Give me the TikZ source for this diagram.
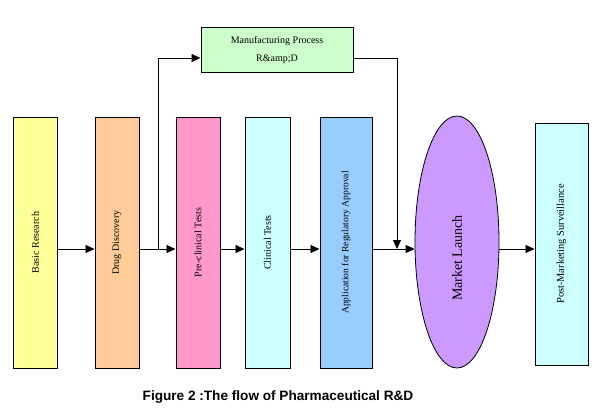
\documentclass[tikz,border=0pt]{standalone}
\usepackage{fontspec}
\setmainfont{Liberation Serif}
\setsansfont{Liberation Sans}
\usetikzlibrary{arrows.meta,shapes.geometric}
\definecolor{cyel}{HTML}{FFFF99}
\definecolor{corg}{HTML}{FFCC99}
\definecolor{cpnk}{HTML}{FF99CC}
\definecolor{ccyn}{HTML}{CCFFFF}
\definecolor{cblu}{HTML}{99CCFF}
\definecolor{cvio}{HTML}{CC99FF}
\definecolor{cgrn}{HTML}{CCFFCC}
\tikzset{
  stagebox/.style={draw=black, line width=1pt, rectangle, inner sep=0pt},
  vlabel/.style={rotate=90, font=\fontsize{10}{12}\selectfont},
  arr/.style={line width=0.9pt, -{Triangle[length=9pt,width=8pt]}},
  conn/.style={line width=0.9pt},
}
\begin{document}
\begin{tikzpicture}[x=1pt,y=-1pt]
\useasboundingbox[fill=white] (0,0) rectangle (592,412);
\coordinate (ly) at (0,249);
% stage boxes
\node[stagebox, fill=cyel, minimum width=44pt, minimum height=251pt] (basic) at (35.5,242.5) {};
\node[vlabel] at (basic) {Basic Research};
\node[stagebox, fill=corg, minimum width=44pt, minimum height=251pt] (drug) at (117,242.5) {};
\node[vlabel] at (drug) {Drug Discovery};
\node[stagebox, fill=cpnk, minimum width=44pt, minimum height=251pt] (pre) at (198,242.5) {};
\node[vlabel] at (pre) {Pre-clinical Tests};
\node[stagebox, fill=ccyn, minimum width=45pt, minimum height=251pt] (clin) at (267.5,242.5) {};
\node[vlabel] at (clin) {Clinical Tests};
\node[stagebox, fill=cblu, minimum width=52pt, minimum height=251pt] (appl) at (346,242.5) {};
\node[vlabel, font=\fontsize{9.6}{12}\selectfont] at (appl) {Application for Regulatory Approval};
\node[draw=black, line width=0.8pt, ellipse, fill=cvio, inner sep=0pt, minimum width=84pt, minimum height=252pt] (mkt) at (457,242) {};
\node[rotate=90, font=\fontsize{14}{16}\selectfont] at (457,258) {Market Launch};
\node[stagebox, fill=ccyn, minimum width=53pt, minimum height=242pt] (post) at (561.5,244) {};
\node[vlabel, font=\fontsize{10.4}{12}\selectfont] at (post) {Post-Marketing Surveillance};
\node[stagebox, fill=cgrn, minimum width=152pt, minimum height=45pt, align=center, font=\fontsize{10}{18}\selectfont] (mfg) at (277,50.5) {Manufacturing Process\\R\&amp;D};
% coordinates for connectors
\coordinate (br) at (158,249);
\coordinate (bt) at (158,58);
\coordinate (dt) at (397,58);
\coordinate (db) at (397,249);
% main flow
\draw[arr] (basic.east |- ly) -- (drug.west |- ly);
\draw[arr] (drug.east |- ly) -- (pre.west |- ly);
\draw[arr] (pre.east |- ly) -- (clin.west |- ly);
\draw[arr] (clin.east |- ly) -- (appl.west |- ly);
\draw[arr] (appl.east |- ly) -- (mkt.west |- ly);
\draw[arr] (mkt.east |- ly) -- (post.west |- ly);
% manufacturing branch
\draw[arr] (br) -- (bt) -- (mfg.west |- bt);
\draw[arr] (mfg.east |- dt) -- (dt) -- (db);
% caption
\node[font=\sffamily\bfseries\fontsize{13.6}{16}\selectfont] (cap) at (278,397) {Figure 2 :The flow of Pharmaceutical R\&D};
\end{tikzpicture}
\end{document}
